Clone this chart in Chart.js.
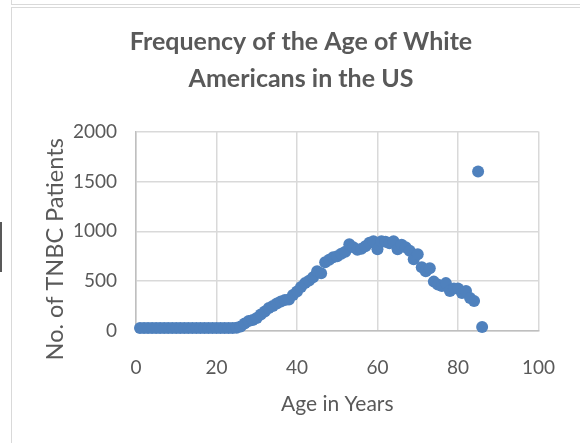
<!DOCTYPE html>
<html>
<head>
<meta charset="utf-8">
<script src="https://cdn.jsdelivr.net/npm/chart.js@4.4.1/dist/chart.umd.min.js"></script>
<style>
  html, body { margin: 0; padding: 0; background: #fff; }
  #wrap { position: relative; width: 580px; height: 443px; overflow: hidden; }
  .box-top { position: absolute; left: 11px; top: -10px; width: 600px; height: 13px; border: 1.5px solid #d9d9d9; }
  .box { position: absolute; left: 11px; top: 7px; width: 600px; height: 460px; border: 1.5px solid #d9d9d9; }
  .mark { position: absolute; left: 0; top: 222px; width: 1.5px; height: 50px; background: #595959; }
  canvas { position: absolute; left: 0; top: 0; }
</style>
</head>
<body>
<div id="wrap">
  <div class="box-top"></div>
  <div class="box"></div>
  <div class="mark"></div>
  <canvas id="chart" width="580" height="443"></canvas>
</div>
<script>
// Age (years) and number of TNBC patients at that age.
const AGES = [
  1, 2, 3, 4, 5, 6, 7, 8, 9, 10, 11, 12, 13, 14, 15, 16, 17, 18, 19, 20,
  21, 22, 23, 24, 25, 26, 27, 28, 29, 30, 31, 32, 33, 34, 35, 36, 37, 38, 39, 40,
  41, 42, 43, 44, 45, 46, 47, 48, 49, 50, 51, 52, 53, 54, 55, 56, 57, 58, 59, 60,
  61, 62, 63, 64, 65, 66, 67, 68, 69, 70, 71, 72, 73, 74, 75, 76, 77, 78, 79, 80,
  81, 82, 83, 84, 85, 86,
];
const PATIENTS = [
  30, 30, 30, 30, 30, 30, 30, 30, 30, 30, 30, 30, 30, 30, 30, 30, 30, 30, 30, 30,
  30, 30, 30, 30, 32, 45, 75, 100, 110, 130, 165, 195, 230, 250, 275, 295, 310, 315, 360, 395,
  440, 480, 505, 540, 600, 580, 690, 715, 740, 750, 775, 795, 870, 840, 815, 825, 850, 885, 900, 820,
  900, 895, 880, 900, 820, 865, 840, 805, 720, 770, 640, 600, 630, 495, 465, 450, 480, 400, 425, 425,
  380, 400, 330, 300, 1600, 40,
];

const X_TICKS = [0, 20, 40, 60, 80, 100];
const Y_TICKS = [0, 500, 1000, 1500, 2000];

const TEXT = '#595959';
const GRID = '#d9d9d9';
const POINT = '#4f81bd';

Chart.defaults.font.family = 'Lato';
Chart.defaults.color = TEXT;

new Chart(document.getElementById('chart'), {
  type: 'scatter',
  data: {
    datasets: [{
      data: AGES.map((a, i) => ({ x: a, y: PATIENTS[i] })),
      backgroundColor: POINT,
      borderWidth: 0,
      pointRadius: 6,
      pointHoverRadius: 6,
      clip: false,
    }],
  },
  options: {
    responsive: false,
    animation: false,
    layout: { padding: { left: 51, right: 29, top: 0, bottom: 0 } },
    plugins: {
      legend: { display: false },
      tooltip: { enabled: false },
      title: {
        display: true,
        text: ['Frequency of the Age of White', 'Americans in the US'],
        color: TEXT,
        font: { size: 25, weight: 'bold', lineHeight: 1.47 },
        padding: { top: 24, bottom: 34 },
      },
    },
    scales: {
      x: {
        type: 'linear',
        min: 0,
        max: 100,
        afterBuildTicks: (s) => { s.ticks = X_TICKS.map((v) => ({ value: v })); },
        afterFit: (s) => { s.height = 112; },
        ticks: { font: { size: 19 }, padding: 25, color: TEXT },
        grid: { color: GRID, lineWidth: 1.5, drawTicks: false },
        border: { color: '#bfbfbf', width: 1.5 },
        title: {
          display: true,
          text: 'Age in Years',
          color: TEXT,
          font: { size: 21 },
          padding: { top: 0, bottom: 26 },
        },
      },
      y: {
        type: 'linear',
        min: 0,
        max: 2000,
        afterBuildTicks: (s) => { s.ticks = Y_TICKS.map((v) => ({ value: v })); },
        afterFit: (s) => { s.width = 85; },
        ticks: { font: { size: 19 }, padding: 19, color: TEXT, callback: (v) => String(v) },
        grid: { color: GRID, lineWidth: 1.5, drawTicks: false },
        border: { color: '#bfbfbf', width: 1.5 },
        title: {
          display: true,
          text: 'No. of TNBC Patients      ',
          color: TEXT,
          font: { size: 23.5, lineHeight: 0.35 },
          padding: { top: 0, bottom: 0 },
        },
      },
    },
  },
});
</script>
</body>
</html>
